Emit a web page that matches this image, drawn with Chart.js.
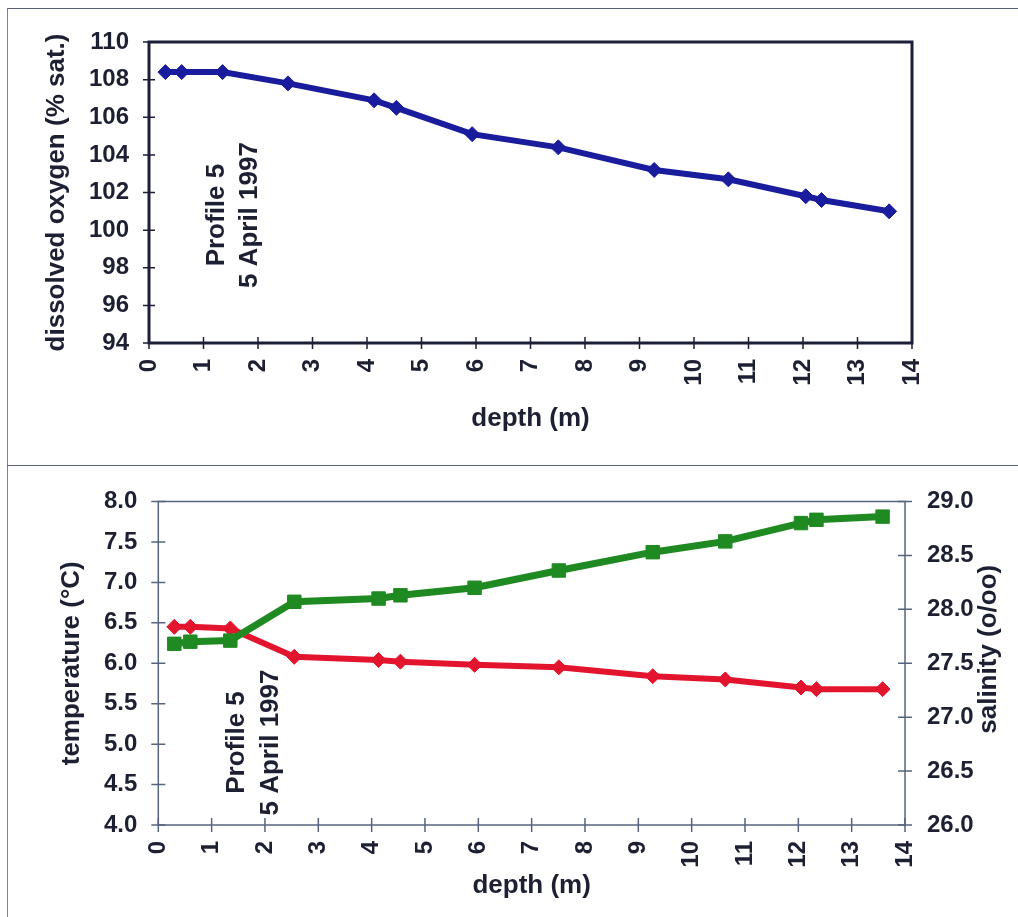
<!DOCTYPE html>
<html>
<head>
<meta charset="utf-8">
<title>Profile 5 – 5 April 1997</title>
<script src="https://cdn.jsdelivr.net/npm/chart.js@4.4.1/dist/chart.umd.min.js"></script>
<style>
  html, body { margin: 0; padding: 0; background: #ffffff; }
  #page { position: relative; width: 1018px; height: 917px; overflow: hidden; background: #ffffff; }
  #frame { position: absolute; left: 7px; top: 8px; width: 1030px; height: 1000px;
           border-left: 1.5px solid #7d8394; border-top: 1.5px solid #5b6175; }
  #divider { position: absolute; left: 7px; top: 465px; width: 1011px; height: 0;
             border-top: 1.5px solid #5b6175; }
  canvas { position: absolute; left: 0; }
  #oxygenChart { top: 0; }
  #tsChart { top: 465px; }
</style>
</head>
<body>
<div id="page">
  <div id="frame"></div>
  <div id="divider"></div>
  <canvas id="oxygenChart" width="1018" height="465"></canvas>
  <canvas id="tsChart" width="1018" height="452"></canvas>
</div>
<script>
// Sampling depths (m) shared by both profiles
const depth = [0.3, 0.6, 1.35, 2.55, 4.13, 4.54, 5.93, 7.51, 9.27, 10.63, 12.05, 12.34, 13.58];

// Measured values at each depth
const oxygen      = [108.4, 108.4, 108.4, 107.8, 106.9, 106.5, 105.1, 104.4, 103.2, 102.7, 101.8, 101.6, 101.0];
const temperature = [6.45, 6.45, 6.43, 6.08, 6.04, 6.02, 5.98, 5.95, 5.84, 5.80, 5.70, 5.68, 5.68];
const salinity    = [27.68, 27.70, 27.71, 28.07, 28.10, 28.13, 28.20, 28.36, 28.53, 28.63, 28.80, 28.83, 28.86];

// Axis tick values
const depthTicks       = [0, 1, 2, 3, 4, 5, 6, 7, 8, 9, 10, 11, 12, 13, 14];
const oxygenTicks      = [94, 96, 98, 100, 102, 104, 106, 108, 110];
const temperatureTicks = [4.0, 4.5, 5.0, 5.5, 6.0, 6.5, 7.0, 7.5, 8.0];
const salinityTicks    = [26.0, 26.5, 27.0, 27.5, 28.0, 28.5, 29.0];

// Axis titles and the profile label
const depthTitle       = 'depth (m)';
const oxygenTitle      = 'dissolved oxygen (% sat.)';
const temperatureTitle = 'temperature (°C)';
const salinityTitle    = 'salinity (o/oo)';
const profileLabel     = ['Profile 5', '5 April 1997'];

const FONT = "'Liberation Sans', Arial, Helvetica, sans-serif";
const INK = '#1d2033';

const toPoints = (ys) => depth.map((d, i) => ({ x: d, y: ys[i] }));
const fixedTicks = (values) => (scale) => { scale.ticks = values.map(v => ({ value: v })); };

// Plot box and tick marks that cross each axis line
const framePlugin = {
  id: 'frameTicks',
  beforeDatasetsDraw(chart, args, opts) {
    const { ctx, chartArea: a } = chart;
    ctx.save();
    ctx.strokeStyle = opts.boxColor;
    ctx.lineWidth = opts.boxWidth;
    ctx.strokeRect(a.left, a.top, a.right - a.left, a.bottom - a.top);
    ctx.strokeStyle = opts.tickColor;
    ctx.lineWidth = opts.tickWidth;
    const L = opts.tickLen;
    ctx.beginPath();
    Object.values(chart.scales).forEach(s => {
      s.ticks.forEach(t => {
        const p = s.getPixelForValue(t.value);
        if (s.isHorizontal()) {
          ctx.moveTo(p, a.bottom - L); ctx.lineTo(p, a.bottom + L);
        } else {
          const x = s.position === 'right' ? a.right : a.left;
          ctx.moveTo(x - L, p); ctx.lineTo(x + L, p);
        }
      });
    });
    ctx.stroke();
    ctx.restore();
  }
};

// Rotated two-line profile label, anchored in data coordinates
const labelPlugin = {
  id: 'profileLabel',
  afterDatasetsDraw(chart, args, opts) {
    const { ctx } = chart;
    const xs = chart.scales.x, ys = chart.scales[opts.yAxis];
    const cx = xs.getPixelForValue(opts.at[0]);
    const cy = ys.getPixelForValue(opts.at[1]);
    ctx.save();
    ctx.translate(cx, cy);
    ctx.rotate(-Math.PI / 2);
    ctx.fillStyle = INK;
    ctx.font = 'bold 26px ' + FONT;
    ctx.textAlign = 'center';
    ctx.textBaseline = 'middle';
    const gap = opts.gap;
    profileLabel.forEach((line, i) => {
      ctx.fillText(line, 0, (i - (profileLabel.length - 1) / 2) * gap);
    });
    ctx.restore();
  }
};

// Right-axis title reading upward, like the left one
const rightTitlePlugin = {
  id: 'rightTitle',
  afterDraw(chart, args, opts) {
    if (!opts.text) return;
    const s = chart.scales[opts.axis];
    const { ctx, chartArea: a } = chart;
    ctx.save();
    ctx.translate(s.right - opts.inset, (a.top + a.bottom) / 2 + opts.shift);
    ctx.rotate(-Math.PI / 2);
    ctx.fillStyle = INK;
    ctx.font = 'bold 26px ' + FONT;
    ctx.textAlign = 'center';
    ctx.textBaseline = 'middle';
    ctx.fillText(opts.text, 0, 0);
    ctx.restore();
  }
};

const tickFont  = { family: FONT, size: 24, weight: 'bold' };
const titleFont = { family: FONT, size: 26, weight: 'bold' };
const noGrid = { display: false, drawTicks: false, tickLength: 0 };

function depthAxis(height) {
  return {
    type: 'linear', position: 'bottom', min: 0, max: 14,
    afterBuildTicks: fixedTicks(depthTicks),
    afterFit: (s) => { s.height = height; },
    grid: noGrid, border: { display: false },
    ticks: { font: tickFont, color: INK, minRotation: 90, maxRotation: 90,
             autoSkip: false, padding: 16, callback: v => String(v) },
    title: { display: true, text: depthTitle, font: titleFont, color: INK,
             padding: { top: 4, bottom: 4 } }
  };
}

Chart.defaults.animation = false;

// Dissolved oxygen profile
new Chart(document.getElementById('oxygenChart'), {
  type: 'line',
  data: {
    datasets: [{
      label: oxygenTitle,
      data: toPoints(oxygen),
      borderColor: '#1a1c9e', backgroundColor: '#1a1c9e',
      borderWidth: 6, tension: 0,
      pointStyle: 'rectRot', pointRadius: 7.5, pointBorderWidth: 1,
      pointBackgroundColor: '#1a1c9e', pointBorderColor: '#1a1c9e'
    }]
  },
  options: {
    responsive: false,
    layout: { padding: { left: 37.4, top: 42, right: 106, bottom: 26.4 } },
    plugins: {
      legend: { display: false }, tooltip: { enabled: false },
      frameTicks: { boxColor: '#1b1f38', boxWidth: 3, tickColor: '#1b1f38', tickWidth: 1.5, tickLen: 6 },
      profileLabel: { yAxis: 'y', at: [1.54, 100.8], gap: 33 },
      rightTitle: { text: '' }
    },
    scales: {
      x: depthAxis(95.6),
      y: {
        type: 'linear', position: 'left', min: 94, max: 110,
        afterBuildTicks: fixedTicks(oxygenTicks),
        afterFit: (s) => { s.width = 111.6; },
        grid: noGrid, border: { display: false },
        ticks: { font: tickFont, color: INK, padding: 20, callback: v => String(v) },
        title: { display: true, text: oxygenTitle, font: titleFont, color: INK,
                 padding: { top: 4, bottom: 4 } }
      }
    }
  },
  plugins: [framePlugin, labelPlugin, rightTitlePlugin]
});

// Temperature and salinity profiles
new Chart(document.getElementById('tsChart'), {
  type: 'line',
  data: {
    datasets: [{
      label: salinityTitle,
      data: toPoints(salinity),
      yAxisID: 'y1',
      borderColor: '#1f8a22', backgroundColor: '#1f8a22',
      borderWidth: 7, tension: 0,
      pointStyle: 'rect', pointRadius: 9.5, pointBorderWidth: 1,
      pointBackgroundColor: '#1f8a22', pointBorderColor: '#1f8a22'
    }, {
      label: temperatureTitle,
      data: toPoints(temperature),
      yAxisID: 'y',
      borderColor: '#e3142d', backgroundColor: '#e3142d',
      borderWidth: 6, tension: 0,
      pointStyle: 'rectRot', pointRadius: 7.5, pointBorderWidth: 1,
      pointBackgroundColor: '#e3142d', pointBorderColor: '#e3142d'
    }]
  },
  options: {
    responsive: false,
    layout: { padding: { left: 52.4, top: 36.5, right: 13, bottom: 11.4 } },
    plugins: {
      legend: { display: false }, tooltip: { enabled: false },
      frameTicks: { boxColor: '#56647f', boxWidth: 1.5, tickColor: '#56647f', tickWidth: 1.5, tickLen: 7 },
      profileLabel: { yAxis: 'y', at: [1.79, 5.02], gap: 34 },
      rightTitle: { axis: 'y1', text: salinityTitle, inset: 16, shift: -14 }
    },
    scales: {
      x: depthAxis(80.6),
      y: {
        type: 'linear', position: 'left', min: 4, max: 8,
        afterBuildTicks: fixedTicks(temperatureTicks),
        afterFit: (s) => { s.width = 105.9; },
        grid: noGrid, border: { display: false },
        ticks: { font: tickFont, color: INK, padding: 21, callback: v => v.toFixed(1) },
        title: { display: true, text: temperatureTitle, font: titleFont, color: INK,
                 padding: { top: 4, bottom: 4 } }
      },
      y1: {
        type: 'linear', position: 'right', min: 26, max: 29,
        afterBuildTicks: fixedTicks(salinityTicks),
        afterFit: (s) => { s.width = 100; },
        grid: noGrid, border: { display: false },
        ticks: { font: tickFont, color: INK, padding: 22, callback: v => v.toFixed(1) },
        title: { display: false }
      }
    }
  },
  plugins: [framePlugin, labelPlugin, rightTitlePlugin]
});
</script>
</body>
</html>
